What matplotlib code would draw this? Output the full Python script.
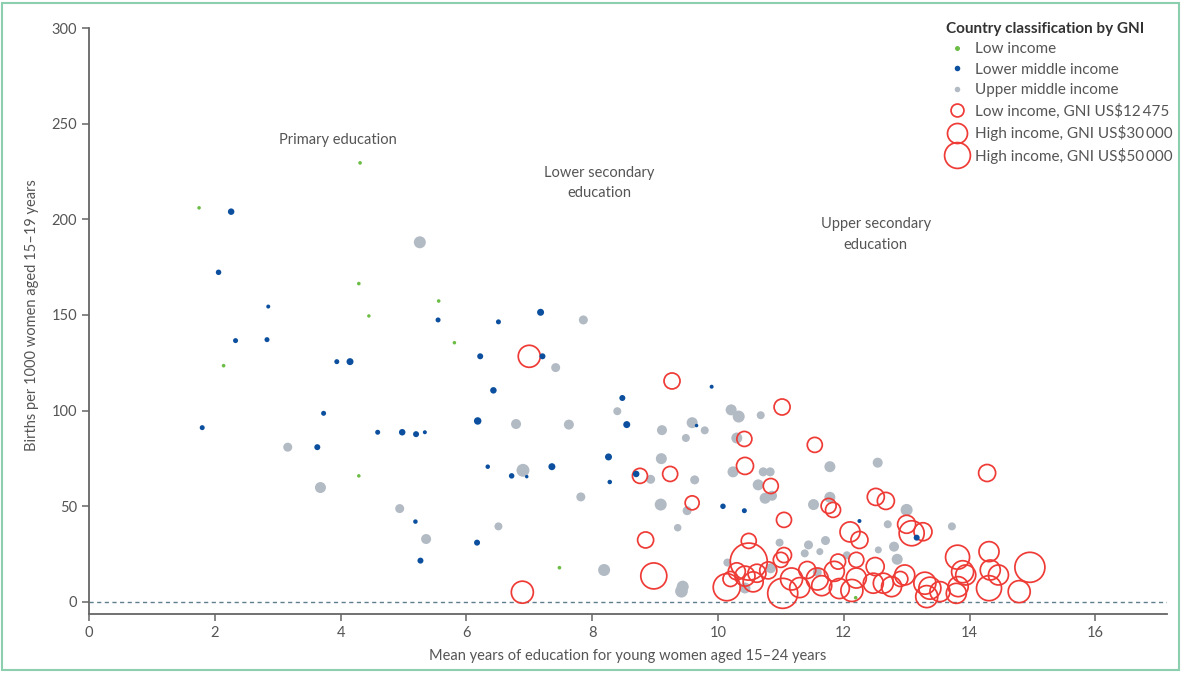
import numpy as np
import matplotlib
matplotlib.use('Agg')
import matplotlib.pyplot as plt
from matplotlib.lines import Line2D
from matplotlib.patches import Rectangle

plt.rcParams['font.family'] = ['Lato', 'DejaVu Sans']

# Low income countries
low_edu = [1.75, 4.31, 4.29, 5.56, 4.45, 5.81, 2.14, 4.29, 7.48, 12.19]
low_births = [206, 229.5, 166.4, 157.3, 149.5, 135.5, 123.5, 65.9, 17.9, 2.2]
low_gni = [950, 1000, 1000, 980, 900, 950, 1000, 950, 1000, 1000]

# Lower middle income countries
lmi_edu = [2.26, 2.06, 2.85, 5.55, 2.33, 2.83, 3.94, 4.15, 3.73, 1.80,
           4.59, 4.98, 5.20, 5.34, 3.63, 5.19, 5.27, 7.18, 6.51, 6.22,
           7.21, 6.43, 8.48, 6.18, 8.55, 9.66, 8.26, 6.34, 6.72, 6.96,
           7.36, 8.70, 8.28, 6.17, 9.90, 10.08, 10.42, 12.25, 13.16]
lmi_births = [204, 172.3, 154.4, 147.4, 136.6, 137.1, 125.6, 125.6, 98.6, 91.1,
              88.7, 88.7, 87.7, 88.7, 80.9, 42.0, 21.6, 151.4, 146.4, 128.4,
              128.4, 110.6, 106.6, 94.6, 92.7, 92.2, 75.8, 70.7, 65.9, 65.5,
              70.7, 66.9, 62.7, 31.0, 112.5, 50.0, 47.7, 42.3, 33.6]
lmi_gni = [3170, 2270, 1200, 1875, 1875, 1875, 1875, 3675, 1875, 1875,
           1875, 3170, 2700, 1200, 2700, 1520, 2700, 3675, 1875, 2700,
           2700, 3170, 2700, 4220, 3675, 920, 3675, 1520, 2270, 920,
           3675, 3170, 1520, 2700, 1200, 2270, 1875, 1200, 2700]

# Upper middle income countries
umi_edu = [5.26, 3.16, 3.68, 4.94, 5.36, 7.86, 7.42, 8.40, 6.79, 7.63,
           9.11, 9.59, 9.49, 9.10, 6.90, 8.93, 9.63, 7.82, 9.09, 9.51,
           6.51, 9.36, 8.19, 9.44, 9.42, 10.21, 10.33, 10.68, 9.79, 10.30,
           11.78, 12.54, 10.24, 10.72, 10.83, 10.64, 10.75, 10.86, 11.52, 11.78,
           10.98, 11.44, 11.71, 11.62, 11.38, 10.15, 13.00, 12.70, 13.72, 12.80,
           12.55, 12.85, 10.43, 10.84, 11.58, 12.05]
umi_births = [188, 80.9, 59.8, 48.8, 32.9, 147.4, 122.5, 99.7, 93.0, 92.7,
              89.8, 93.7, 85.7, 74.9, 68.8, 64.1, 63.8, 54.9, 50.9, 47.7,
              39.5, 38.8, 16.7, 8.0, 5.6, 100.4, 96.9, 97.6, 89.7, 85.7,
              70.7, 72.8, 68.0, 68.0, 68.0, 61.2, 54.2, 55.5, 50.9, 54.7,
              31.0, 29.8, 32.1, 26.3, 25.4, 20.6, 48.1, 40.6, 39.5, 28.9,
              27.2, 22.3, 7.3, 17.6, 15.5, 24.4]
umi_gni = [10800, 6075, 9075, 6075, 7500, 6075, 6075, 4800, 7500, 7500,
           7500, 9075, 4800, 9075, 12500, 6075, 6075, 6075, 10800, 6075,
           4800, 4220, 10800, 10800, 12000, 9075, 10800, 4800, 4800, 9075,
           9075, 7500, 9075, 6075, 6075, 9075, 9075, 7500, 9075, 9075,
           4800, 6075, 6075, 3675, 4800, 4800, 10800, 4800, 4800, 7500,
           3675, 9075, 9075, 7500, 6075, 4800]

# High income countries
hi_edu = [7.00, 9.27, 11.02, 10.42, 11.54, 14.28, 10.43, 8.76, 9.24, 10.84,
          9.59, 11.76, 11.83, 12.51, 12.67, 11.05, 8.85, 10.49, 12.10, 12.25,
          13.00, 13.08, 13.26, 8.98, 6.89, 10.14, 10.49, 11.03, 11.17, 11.42,
          13.81, 14.31, 14.96, 13.89, 13.94, 14.33, 14.46, 14.31, 14.79, 12.97,
          12.50, 12.47, 12.63, 12.76, 13.29, 13.37, 13.32, 13.53, 13.79, 13.82,
          11.91, 12.20, 10.30, 10.43, 10.62, 10.80, 10.20, 10.56, 11.58, 11.65,
          11.85, 11.93, 12.20, 12.13, 12.90, 11.30, 11.00, 11.05]
hi_births = [128.4, 115.5, 101.9, 85.2, 82.1, 67.4, 71.1, 65.9, 66.9, 60.6,
             51.8, 50.2, 48.1, 54.9, 52.8, 42.9, 32.4, 31.9, 36.6, 32.4,
             40.6, 35.9, 36.7, 13.6, 5.1, 7.7, 21.1, 4.5, 12.0, 16.7,
             23.4, 26.3, 18.1, 15.8, 14.1, 16.7, 14.1, 7.2, 5.4, 14.1,
             18.5, 9.8, 9.8, 8.0, 9.8, 7.2, 2.8, 5.4, 4.5, 8.0,
             21.1, 22.0, 16.0, 13.5, 15.0, 16.5, 12.0, 10.5, 12.0, 8.5,
             16.0, 7.0, 12.5, 6.0, 12.0, 7.5, 22.0, 24.5]
hi_gni = [36300, 19200, 19200, 16900, 16900, 21700, 21700, 16900, 16900, 16900,
          14700, 16900, 16900, 21700, 21700, 16900, 19200, 16900, 30000, 21700,
          24300, 46900, 24300, 50700, 36300, 54700, 102700, 67500, 36300, 21700,
          43200, 30000, 67500, 36300, 30000, 30000, 30000, 46900, 36300, 30000,
          24300, 30000, 30000, 30000, 36300, 36300, 36300, 30000, 30000, 30000,
          16900, 16900, 21700, 30000, 24300, 21700, 16900, 30000, 36300, 30000,
          30000, 30000, 30000, 36300, 16900, 30000, 16900, 16900]

legend_gni = [12475, 30000, 50000]

GREEN = '#6cbd45'
BLUE = '#0b4f9e'
GREY = '#b2bac3'
RED = '#ef3b36'
TEXT = '#555555'
AXIS = '#666666'


def gni_size(gni):
    # marker area proportional to GNI per capita (scatter size in pt^2)
    return np.asarray(gni, dtype=float) * 0.006915


fig = plt.figure(figsize=(11.84, 6.73), dpi=100)
ax = fig.add_axes([89 / 1184, 59 / 673, 1078 / 1184, 586 / 673])

ax.axhline(0, color='#5f7f8c', lw=1.0, ls=(0, (3, 2.5)), zorder=1)

ax.scatter(umi_edu, umi_births, s=gni_size(umi_gni), color=GREY, lw=0, zorder=2)
ax.scatter(hi_edu, hi_births, s=gni_size(hi_gni), facecolors='none',
           edgecolors=RED, linewidths=1.25, zorder=3)
ax.scatter(lmi_edu, lmi_births, s=gni_size(lmi_gni), color=BLUE, lw=0, zorder=4)
ax.scatter(low_edu, low_births, s=gni_size(low_gni), color=GREEN, lw=0, zorder=5)

ax.set_xlim(0, 17.14)
ax.set_ylim(-6.3, 300)
ax.set_xticks(np.arange(0, 17, 2))
ax.set_yticks(np.arange(0, 301, 50))

for side in ['top', 'right']:
    ax.spines[side].set_visible(False)
for side in ['left', 'bottom']:
    ax.spines[side].set_color(AXIS)
    ax.spines[side].set_linewidth(1.3)
ax.tick_params(direction='out', length=5, width=1.1, color=AXIS,
               labelcolor=TEXT, labelsize=10.5)

ax.set_xlabel('Mean years of education for young women aged 15\u201324 years',
              fontsize=10.5, color=TEXT)
ax.set_ylabel('Births per 1000 women aged 15\u201319 years',
              fontsize=10.5, color=TEXT)
ax.xaxis.set_label_coords(0.5, -0.06)
ax.yaxis.set_label_coords(-0.046, 0.51)

ax.text(3.96, 241.5, 'Primary education', ha='center', va='center',
        fontsize=10.5, color=TEXT)
ax.text(8.11, 219, 'Lower secondary\neducation', ha='center', va='center',
        fontsize=10.5, color=TEXT, linespacing=1.6)
ax.text(12.51, 192, 'Upper secondary\neducation', ha='center', va='center',
        fontsize=10.5, color=TEXT, linespacing=1.6)

handles = [
    Line2D([], [], ls='', marker='o', markersize=3.6, mfc=GREEN, mec='none'),
    Line2D([], [], ls='', marker='o', markersize=4.0, mfc=BLUE, mec='none'),
    Line2D([], [], ls='', marker='o', markersize=4.0, mfc=GREY, mec='none'),
]
for g in legend_gni:
    handles.append(Line2D([], [], ls='', marker='o',
                          markersize=float(np.sqrt(gni_size(g))),
                          mfc='none', mec=RED, mew=1.25))
labels = ['Low income', 'Lower middle income', 'Upper middle income',
          'Low income, GNI US$12\u2009475', 'High income, GNI US$30\u2009000',
          'High income, GNI US$50\u2009000']
leg = ax.legend(handles, labels, loc='upper left',
                bbox_to_anchor=(946 / 1184, 1 - 22 / 673),
                bbox_transform=fig.transFigure, frameon=False,
                fontsize=11, title='Country classification by GNI',
                title_fontproperties={'weight': 'bold', 'size': 11},
                alignment='left', borderpad=0, borderaxespad=0,
                handlelength=1.45, handletextpad=0.45, labelspacing=0.42)
for t in leg.get_texts():
    t.set_color(TEXT)
leg.get_title().set_color('#333333')

fig.patches.append(Rectangle((2 / 1184, 3 / 673), 1177 / 1184, 667 / 673,
                             transform=fig.transFigure, fill=False,
                             ec='#8ccfae', lw=1.5))

fig.savefig('out.png', dpi=100)
